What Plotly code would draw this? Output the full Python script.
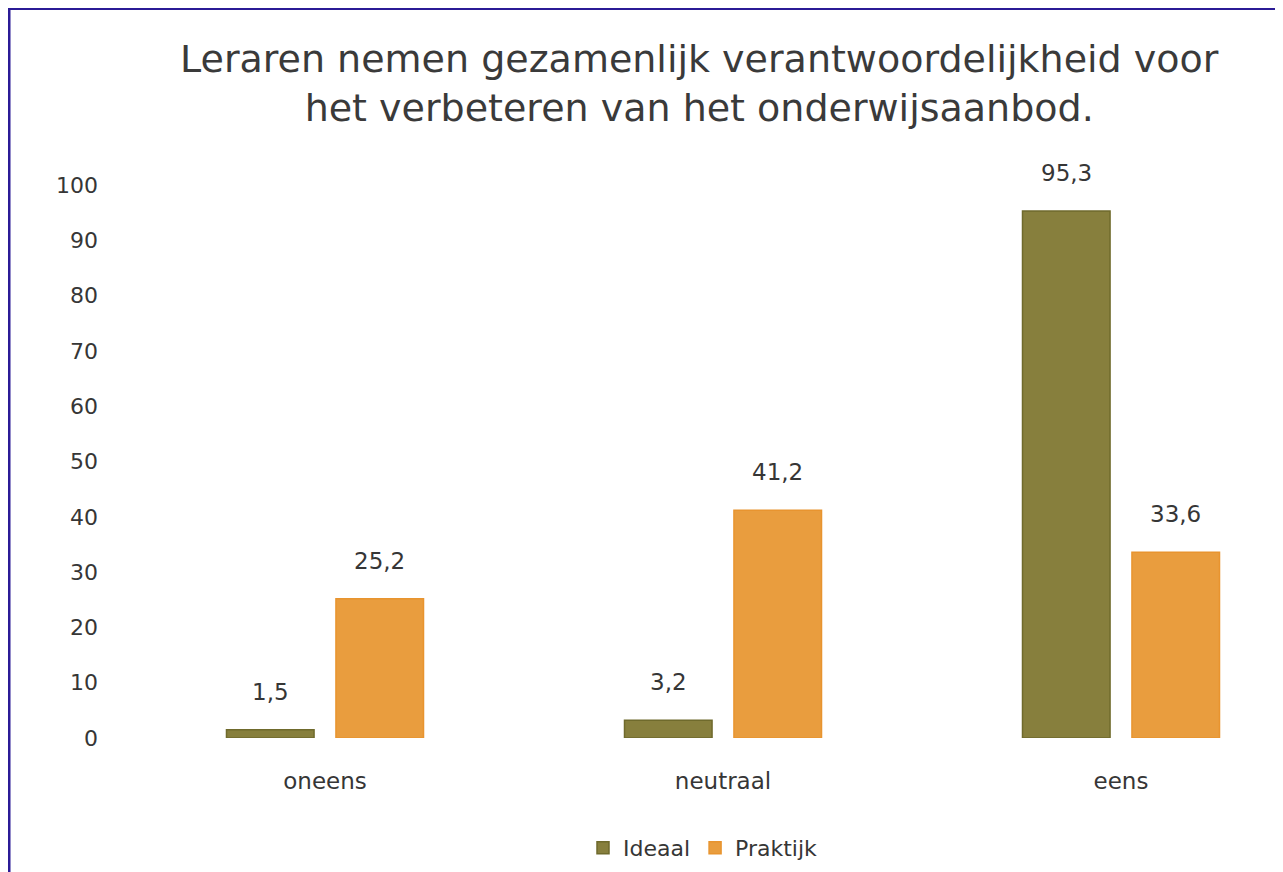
import plotly.graph_objects as go

categories = ["oneens", "neutraal", "eens"]
ideaal = [1.5, 3.2, 95.3]
praktijk = [25.2, 41.2, 33.6]
y_ticks = [0, 10, 20, 30, 40, 50, 60, 70, 80, 90, 100]
title_text = "Leraren nemen gezamenlijk verantwoordelijkheid voor<br>het verbeteren van het onderwijsaanbod."

# the page body adds an 8px margin, so the figure is a bit smaller than the window
OFF = 8
W, H = 1283 - OFF, 872 - OFF
L, R, T, B = 126 - OFF, 0, 185 - OFF, 872 - 738
pw, ph = W - L - R, H - T - B
CAT_PX = 398.0
BARGAP = 0.45
SLOT = CAT_PX * (1 - BARGAP) / 2

def px_x(p):  # p: window pixel
    return (p - OFF - L) / pw

def px_y(p):
    return (H - B - (p - OFF)) / ph

FONT = "DejaVu Sans"
TXT = "#363636"

fig = go.Figure()
fig.add_trace(go.Bar(
    name="Ideaal", x=categories, y=ideaal,
    marker=dict(color="#877f3d", line=dict(color="#6f6a2c", width=1.5)),
))
fig.add_trace(go.Bar(
    name="Praktijk", x=categories, y=praktijk,
    marker=dict(color="#e99d3e", line=dict(color="#e8942f", width=1.5)),
))

# value labels above the bars, positioned in data coordinates
for vals, shift in ((ideaal, -SLOT / 2), (praktijk, SLOT / 2)):
    for c, v in zip(categories, vals):
        fig.add_annotation(x=c, y=v, xref="x", yref="y", xshift=shift, yshift=38,
                           text=f"{v:.1f}".replace(".", ","), showarrow=False,
                           xanchor="center", yanchor="middle",
                           font=dict(family=FONT, size=23, color=TXT))

fig.add_shape(type="rect", xref="paper", yref="paper",
              x0=px_x(OFF + 1), x1=px_x(1283 + 20), y0=px_y(900), y1=px_y(OFF + 0.5),
              fillcolor="white", line=dict(color="#2b1b96", width=3), layer="below")

fig.add_annotation(text=title_text, xref="paper", yref="paper",
                   x=px_x(699), y=px_y(83), xanchor="center", yanchor="middle",
                   showarrow=False, align="center",
                   font=dict(family=FONT, size=38, color="#3a3a3a"))

fig.update_layout(
    width=W, height=H,
    margin=dict(l=L, r=R, t=T, b=B, pad=0),
    paper_bgcolor="#e6e4f0", plot_bgcolor="rgba(0,0,0,0)",
    separators=",.",
    barmode="group", bargap=BARGAP, bargroupgap=0.2,
    font=dict(family=FONT, color=TXT),
    legend=dict(orientation="h", x=px_x(703), xanchor="center", y=px_y(848), yanchor="middle",
                font=dict(family=FONT, size=22, color=TXT), bgcolor="rgba(0,0,0,0)",
                traceorder="normal"),
    showlegend=True,
)
fig.update_xaxes(range=[-0.5, -0.5 + pw / CAT_PX], showgrid=False, showline=False,
                 ticks="", tickfont=dict(family=FONT, size=23, color=TXT), ticklabelstandoff=27)
fig.update_yaxes(range=[0, 100], tickvals=y_ticks, showgrid=False, showline=False, zeroline=False,
                 ticks="", tickfont=dict(family=FONT, size=22, color=TXT), ticklabelstandoff=27)

fig.write_html("out.html")
